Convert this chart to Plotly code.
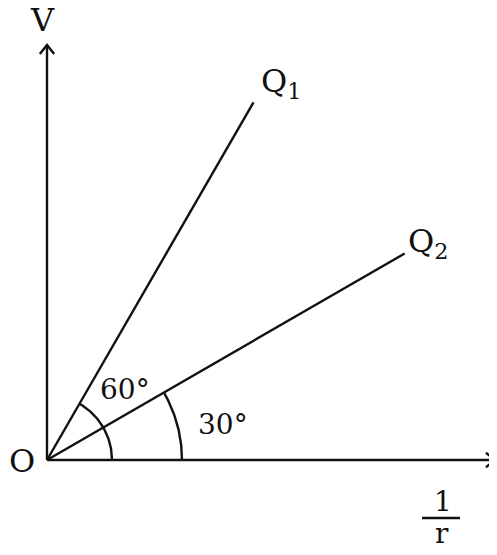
import numpy as np
import plotly.graph_objects as go

# line data: angle with the 1/r axis (degrees), label, arc radius for the angle mark
angles = [60, 30]
line_labels = ["Q<sub>1</sub>", "Q<sub>2</sub>"]
line_length = 413
arc_radius = [65, 135]
angle_labels = ["60°", "30°"]

# axis extents (origin at 0,0)
x_axis_len = 448
y_axis_len = 415

ink = "#111111"
lw = 2.4
font = dict(family="DejaVu Serif", size=28, color=ink)
big = dict(family="DejaVu Serif", size=32, color=ink)

fig = go.Figure()

# axes
fig.add_trace(go.Scatter(x=[0, x_axis_len], y=[0, 0], mode="lines",
                         line=dict(color=ink, width=lw)))
fig.add_trace(go.Scatter(x=[0, 0], y=[0, y_axis_len], mode="lines",
                         line=dict(color=ink, width=lw)))
# open arrow heads
a = 9
fig.add_trace(go.Scatter(x=[x_axis_len - a, x_axis_len, x_axis_len - a],
                         y=[a * 0.8, 0, -a * 0.8], mode="lines",
                         line=dict(color=ink, width=lw)))
fig.add_trace(go.Scatter(x=[-a * 0.8, 0, a * 0.8],
                         y=[y_axis_len - a, y_axis_len, y_axis_len - a], mode="lines",
                         line=dict(color=ink, width=lw)))

# the two lines and their angle arcs
for ang, r in zip(angles, arc_radius):
    t = np.radians(ang)
    fig.add_trace(go.Scatter(x=[0, line_length * np.cos(t)], y=[0, line_length * np.sin(t)],
                             mode="lines", line=dict(color=ink, width=lw)))
    th = np.linspace(0, t, 60)
    fig.add_trace(go.Scatter(x=r * np.cos(th), y=r * np.sin(th), mode="lines",
                             line=dict(color=ink, width=lw)))

# fraction bar under the 1/r label
fig.add_trace(go.Scatter(x=[375, 413], y=[-58, -58], mode="lines",
                         line=dict(color=ink, width=lw)))

labels = [
    ("V", -5, 440, big),
    (line_labels[0], 234, 377, big),
    (line_labels[1], 381, 217, big),
    ("O", -25, -1, big),
    (angle_labels[0], 78, 71, font),
    (angle_labels[1], 176, 36, font),
    ("1", 396, -41, font),
    ("r", 395, -73, font),
]
for txt, x, y, f in labels:
    fig.add_annotation(x=x, y=y, text=txt, showarrow=False, font=f,
                       xanchor="center", yanchor="middle")

# page body has an 8px margin, so the figure is 8px smaller and shifted ranges
fig.update_layout(
    width=489, height=547, autosize=False,
    margin=dict(l=0, r=0, t=0, b=0),
    paper_bgcolor="white", plot_bgcolor="white",
    showlegend=False,
    xaxis=dict(range=[-39, 450], visible=False, fixedrange=True),
    yaxis=dict(range=[-95, 452], visible=False, fixedrange=True),
)

fig.write_html("out.html")
